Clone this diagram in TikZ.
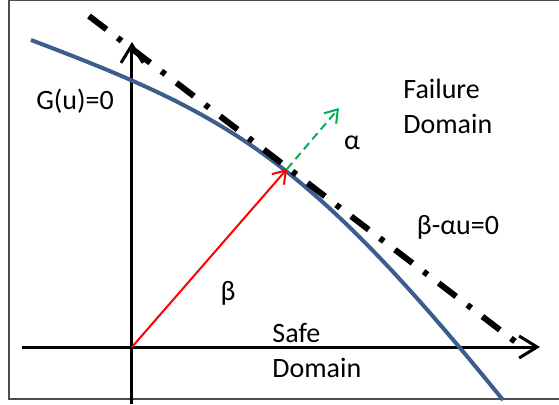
\documentclass[tikz,border=0pt]{standalone}
\usepackage{fontspec}
\setmainfont{Carlito}
\usepackage{tikz}
\usetikzlibrary{arrows.meta, positioning, calc}
\definecolor{curveblue}{HTML}{3B5E8C}
\definecolor{alphagreen}{HTML}{00B050}

\begin{document}
\begin{tikzpicture}[
  x=0.5pt, y=-0.5pt,
  axis/.style={line width=1.5pt, black,
    -{Straight Barb[length=9pt, width=11pt, line width=1.5pt]}},
  limit/.style={line width=2pt, color=curveblue},
  tangent/.style={line width=3pt, black,
    dash pattern=on 11pt off 7pt on 2.5pt off 7pt},
  betavec/.style={line width=1pt, red,
    -{Straight Barb[length=6pt, width=8pt, line width=1pt]}},
  alphavec/.style={line width=1pt, alphagreen, dash pattern=on 4pt off 2.5pt,
    -{Straight Barb[length=6pt, width=8pt, line width=1pt]}},
  lbl/.style={font=\fontsize{14pt}{17.5pt}\selectfont, inner sep=0pt, align=left}
]
  \useasboundingbox (0,0) rectangle (559,404);
  % frame
  \draw[black!70, line width=0.6pt] (559,0.6) -- (9,0.6) -- (9,399) -- (559,399);

  % points
  \coordinate (O) at (132,347);
  \coordinate (P) at (287,169);
  \coordinate (A) at (339,108);
  \coordinate (xs) at (22,347);
  \coordinate (xe) at (540,347);
  \coordinate (ys) at (132,404);
  \coordinate (ye) at (132,42);
  \coordinate (t1) at (89,16);
  \coordinate (t2) at (521,346);
  \coordinate (c1) at (31,40);
  \coordinate (c2) at (503,400);

  % axes
  \draw[axis] (xs) -- (xe);
  \draw[axis] (ys) -- (ye);

  % limit state surface and its tangent
  \draw[limit] (c1) .. controls (229,115) and (305,156) .. (c2);
  \draw[tangent] (t1) -- (t2);

  % design point vectors
  \draw[betavec] (O) -- (P);
  \draw[alphavec] (P) -- (A);

  % labels
  \node[lbl] (gu) at (75,101) {G(u)=0};
  \node[lbl, anchor=west] (fail) at (403,106) {Failure\\Domain};
  \node[lbl] (alpha) at (352,143) {α};
  \node[lbl] (beta) at (228,293) {β};
  \node[lbl] (plane) at (458,227) {β-αu=0};
  \node[lbl, anchor=west] (safe) at (272,350) {Safe\\Domain};
\end{tikzpicture}
\end{document}
